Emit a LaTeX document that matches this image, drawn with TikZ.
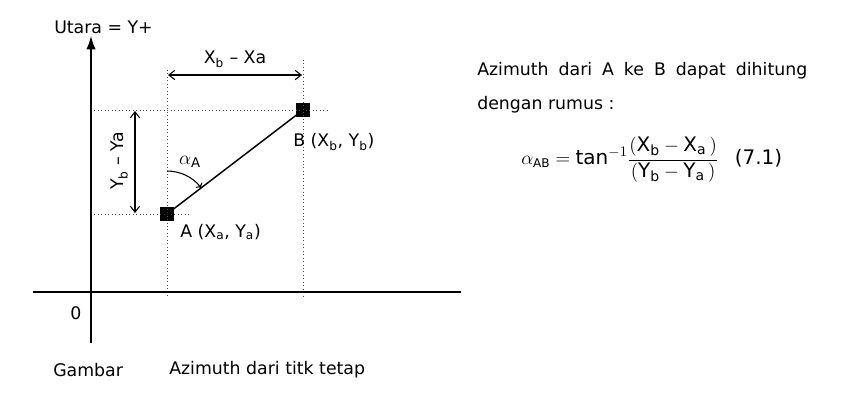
\documentclass[tikz,border=0pt]{standalone}
\usepackage{amsmath}
\usepackage{fontspec}
\setmainfont{DejaVu Sans}
\usetikzlibrary{arrows.meta}
\tikzset{
  pt/.style={fill=black,inner sep=0pt,minimum size=10pt},
  guide/.style={dotted,color=black!70,line width=0.6},
  dim/.style={line width=0.8,{Straight Barb[length=4.5pt,width=7pt]}-{Straight Barb[length=4.5pt,width=7pt]}},
  lbl/.style={inner sep=0.75pt,font=\fontsize{13}{15}\selectfont},
}

\begin{document}
\begin{tikzpicture}[x=0.75pt,y=0.75pt,yscale=-1,xscale=1]
\useasboundingbox (0,0) rectangle (846,400);

% Points
\node [pt] (A) at (167,214) {};
\node [pt] (B) at (303,110) {};
\coordinate (yTop) at (91,36);
\coordinate (yBot) at (91,343);
\coordinate (xL) at (33,292);
\coordinate (xR) at (461,292);

%Dotted guides
\draw [guide] (167,70) -- (167,298) ;
\draw [guide] (303,60) -- (303,298) ;
\draw [guide] (91,110) -- (327,110) ;
\draw [guide] (91,214) -- (190,214) ;

%Axes
\draw [line width=1,-{Latex[length=10pt,width=7pt]}] (yBot) -- (yTop) ;
\draw [line width=1] (xL) -- (xR) ;

%Straight Lines
\draw [line width=1.1] (A.center) -- (B.center) ;

%Dimension arrows
\coordinate (dxL) at (168,75);
\coordinate (dxR) at (302,75);
\draw [dim] (dxL) -- (dxR) ;
\coordinate (dyT) at (135,111);
\coordinate (dyB) at (135,213);
\draw [dim] (dyT) -- (dyB) ;

%Angle
\draw [line width=0.8,-{To[length=3pt]}] (A.center) ++(-90:43) arc (-90:-37.4:43) ;

% Text Node
\node [lbl,anchor=west] (north) at (53,27) {Utara = Y+};
% Text Node
\node [lbl] (zero) at (76,313) {0};
% Text Node
\node [lbl,anchor=south] (dx) at (235,69) {X\textsubscript{b} -- Xa};
% Text Node
\node [lbl,rotate=90,anchor=south] (dy) at (129,161) {Y\textsubscript{b} -- Ya};
% Text Node
\node [inner sep=0.75pt,font=\Large] (alpha) at (190,162) {$\alpha_{\mathrm{A}}$};
% Text Node
\node [lbl,anchor=west] (Blbl) at (292,142) {B (X\textsubscript{b}, Y\textsubscript{b})};
% Text Node
\node [lbl,anchor=west] (Albl) at (179,232) {A (X\textsubscript{a}, Y\textsubscript{a})};
% Text Node
\node [lbl,anchor=west] (desc) at (476,71) {\makebox[247.5pt][s]{Azimuth dari A ke B dapat dihitung}};
% Text Node
\node [lbl,anchor=west] (desc2) at (476,105) {dengan rumus :};
% Text Node
\node [inner sep=0.75pt,font=\fontsize{15}{18}\selectfont,anchor=west] (formula) at (520,160) {$\alpha_{\text{\small AB}} = \text{tan}^{-1}\dfrac{(\text{X}_{\text{b}} - \text{X}_{\text{a}}\,)}{(\text{Y}_{\text{b}} - \text{Y}_{\text{a}}\,)}$\enspace\ (7.1)};
% Text Node
\node [lbl,anchor=west] (fig) at (52,370) {Gambar};
% Text Node
\node [lbl,anchor=west] (cap) at (168,370) {Azimuth dari titk tetap};

\end{tikzpicture}
\end{document}
